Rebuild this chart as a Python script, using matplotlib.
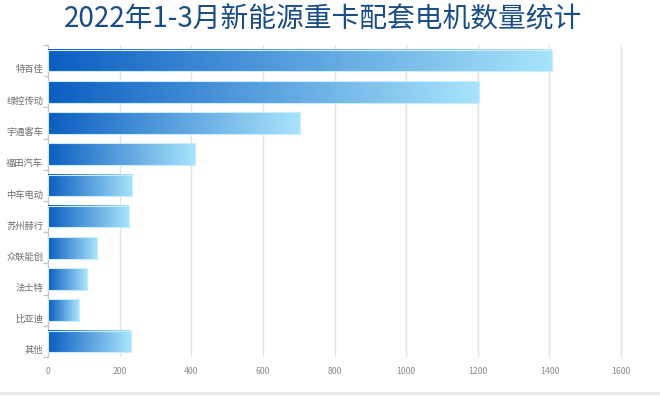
import numpy as np
import matplotlib
matplotlib.use("Agg")
import matplotlib.pyplot as plt
from matplotlib.colors import LinearSegmentedColormap
from matplotlib.patches import Rectangle

plt.rcParams['font.family'] = ['Noto Sans CJK SC', 'DejaVu Sans']

title = "2022年1-3月新能源重卡配套电机数量统计"
categories = ["特百佳", "绿控传动", "宇通客车", "福田汽车", "中车电动",
              "苏州赫行", "众联能创", "法士特", "比亚迪", "其他"]
values = [1406, 1202, 702, 409, 235, 225, 135, 108, 85, 230]
x_ticks = [0, 200, 400, 600, 800, 1000, 1200, 1400, 1600]

W, H = 660, 399
fig = plt.figure(figsize=(W / 100, H / 100), dpi=100)
fig.patch.set_facecolor("white")

left_px, top_px, bottom_px = 48.3, 45, 357
ax = fig.add_axes([left_px / W, 1 - bottom_px / H, (W - left_px) / W, (bottom_px - top_px) / H])
px_per_unit = (621 - 48.3) / 1600
xmax = (W - left_px) / px_per_unit

cmap = LinearSegmentedColormap.from_list("g", ["#0b5ec2", "#a8e4fb"])
grad = np.linspace(0, 1, 256).reshape(1, -1)
bh = 0.69
for i, v in enumerate(values):
    ax.imshow(grad, extent=(0, v, i + bh / 2, i - bh / 2), aspect="auto",
              cmap=cmap, interpolation="bilinear", zorder=3)
    ax.add_patch(Rectangle((0, i - bh / 2), v, bh, fill=False,
                           edgecolor="#c9edfc", lw=0.8, zorder=4))

ax.set_xlim(0, xmax)
ax.set_ylim(len(categories) - 0.5, -0.5)
ax.set_aspect("auto")

for t in x_ticks[1:]:
    ax.axvline(t, color="#e3e3e3", lw=1, zorder=1)

for s in ["top", "right", "bottom"]:
    ax.spines[s].set_visible(False)
ax.spines["left"].set_color("#c8c8c8")
ax.spines["left"].set_linewidth(1)

ax.set_xticks(x_ticks)
ax.set_xticklabels([str(t) for t in x_ticks])
ax.tick_params(axis="x", length=0, pad=7, labelsize=6.3, labelcolor="#8a8a8a")

# boundary tick marks on the y axis
ax.set_yticks(np.arange(-0.5, len(categories) + 0.5, 1.0))
ax.set_yticklabels([])
ax.tick_params(axis="y", length=3.5, color="#c8c8c8", width=1)
for i, c in enumerate(categories):
    ax.text(-0.013 * xmax * 0 - 5 / px_per_unit, i + 0.3, c, ha="right", va="center",
            fontsize=6.7, color="#6e6e6e", clip_on=False)

fig.text(323 / W, 1 - 20 / H, title, ha="center", va="center",
         fontsize=20, color="#1a4d87")

# bottom light line
fig.add_artist(plt.Line2D([0, 1], [1 - 393 / H, 1 - 393 / H], transform=fig.transFigure,
                          color="#e9e9e9", lw=2))

fig.savefig("out.png", dpi=100, facecolor="white")
